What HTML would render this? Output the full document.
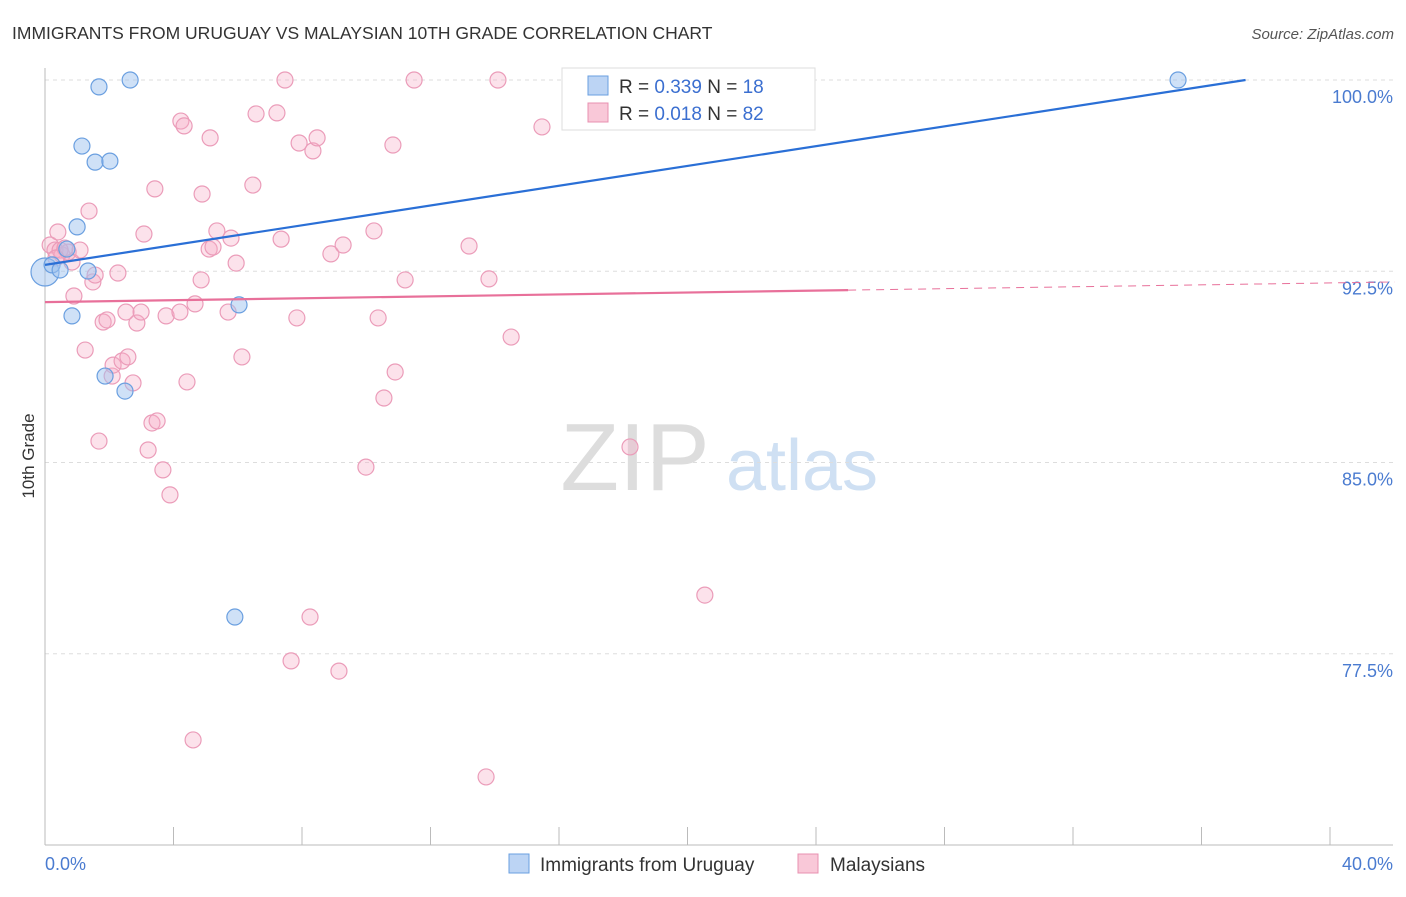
<!DOCTYPE html>
<html><head><meta charset="utf-8"><style>
body{margin:0;background:#fff;font-family:"Liberation Sans",sans-serif;}
svg text{font-family:"Liberation Sans",sans-serif;}
</style></head><body>
<svg id="chart" width="1406" height="892" viewBox="0 0 1406 892" xmlns="http://www.w3.org/2000/svg">
<text x="12" y="39" font-size="17.5" fill="#333">IMMIGRANTS FROM URUGUAY VS MALAYSIAN 10TH GRADE CORRELATION CHART</text>
<text x="1394" y="39" font-size="15" fill="#555" text-anchor="end" font-style="italic">Source: ZipAtlas.com</text>
<g>
<text x="635" y="490" font-size="96" fill="#ddd" font-family="Liberation Serif" text-anchor="middle">ZIP</text>
<text x="802" y="490" font-size="72" fill="#cfe0f3" text-anchor="middle">atlas</text>
</g>
<g id="grid"></g>
<g id="axes"></g>
<g id="points"></g>
<g id="lines"></g>
<text transform="translate(34,456) rotate(-90)" font-size="17" fill="#333" text-anchor="middle">10th Grade</text>
<g>
<rect x="562" y="68" width="253" height="62" fill="#fff" stroke="#ddd"/>
<rect x="588" y="76" width="20" height="19" fill="#bcd4f4" stroke="#6a9fe0"/>
<text x="619" y="93" font-size="19" fill="#333">R = <tspan fill="#3b6fd0">0.339</tspan>    N = <tspan fill="#3b6fd0" dx="0">18</tspan></text>
<rect x="588" y="103" width="20" height="19" fill="#f9c8d8" stroke="#e890b0"/>
<text x="619" y="120" font-size="19" fill="#333">R = <tspan fill="#3b6fd0">0.018</tspan>    N = <tspan fill="#3b6fd0">82</tspan></text>
</g>
<g>
<rect x="509" y="854" width="20" height="19" fill="#bcd4f4" stroke="#6a9fe0"/>
<text x="540" y="871" font-size="19" fill="#333">Immigrants from Uruguay</text>
<rect x="798" y="854" width="20" height="19" fill="#f9c8d8" stroke="#e890b0"/>
<text x="830" y="871" font-size="19" fill="#333">Malaysians</text>
</g>
</svg>
<script>
const xTickLabels=["0.0%","40.0%"];
const yTicks=[100,92.5,85,77.5];
const yTickLabels=["100.0%","92.5%","85.0%","77.5%"];
const blueX=[0,0.22,0.47,0.68,1.0,1.15,1.56,2.02,1.68,2.65,1.34,0.84,1.87,2.49,6.04,5.91,23.56,35.27];
const blueY=[92.47,92.75,92.55,93.37,94.24,97.41,96.78,96.82,99.73,100,92.51,90.75,88.39,87.8,91.18,78.94,100,100];
const pinkX=[0.16,0.31,0.40,0.53,0.72,0.84,1.09,1.37,0.90,1.49,1.56,2.27,1.25,1.68,1.81,1.93,2.09,2.12,2.40,2.58,2.74,2.86,2.99,2.52,3.08,3.21,3.33,3.49,3.42,3.67,3.89,3.77,4.20,4.23,4.33,4.42,4.67,4.86,4.89,5.14,5.11,5.23,5.35,5.79,5.95,5.70,6.13,6.57,6.47,7.22,7.35,7.47,7.66,7.84,7.91,8.34,8.47,8.25,8.90,9.15,9.28,9.99,10.24,10.37,10.55,10.90,10.83,11.21,11.49,13.20,13.82,14.10,14.51,15.47,16.44,18.21,20.54,4.61,13.73,0.47,0.62,0.34];
const pinkY=[93.53,93.33,94.04,93.14,93.25,92.86,93.33,94.86,91.53,92.08,92.35,92.43,89.41,85.84,90.51,90.59,88.39,88.82,88.98,89.14,88.12,90.47,90.90,90.90,93.96,85.49,86.55,86.63,95.73,84.71,83.73,90.75,90.90,98.39,98.20,88.16,91.22,92.16,95.53,97.73,93.37,93.45,94.08,93.80,92.82,90.90,89.14,98.67,95.88,98.71,93.76,100,77.22,90.67,97.53,97.22,97.73,78.94,93.18,76.82,93.53,84.82,94.08,90.67,87.53,88.55,97.45,92.16,100,93.49,92.20,100,89.92,98.16,100,85.61,79.80,74.12,72.67,93.33,93.41,93.02];
const blueLine=[92.75,0.194];
const pinkLine=[91.29,0.0188];
const NS="http://www.w3.org/2000/svg";
const sx=v=>45+v*32.125;
const sy=v=>80+(100-v)*25.5;
function mk(tag,attrs,parent){const e=document.createElementNS(NS,tag);for(const k in attrs)e.setAttribute(k,attrs[k]);document.getElementById(parent).appendChild(e);return e;}
yTicks.forEach((t,i)=>{
 const g=mk('line',{x1:45,x2:1393,y1:sy(t),y2:sy(t),stroke:'#ddd','stroke-dasharray':'4,4'},'grid');
 
 
 const tx=mk('text',{x:1393,y:sy(t)+23,'font-size':18,fill:'#4a7bd0','text-anchor':'end'},'axes');
 tx.textContent=yTickLabels[i];
 
 
});
mk('line',{x1:45,x2:45,y1:68,y2:845,stroke:'#bbb'},'axes');
mk('line',{x1:45,x2:1393,y1:845,y2:845,stroke:'#bbb'},'axes');
for(let i=0;i<=10;i++){const l=mk('line',{x1:sx(i*4),x2:sx(i*4),y1:827,y2:845,stroke:'#bbb'},'axes');
 
 }
const xl0=mk('text',{x:45,y:870,'font-size':18,fill:'#4a7bd0'},'axes');xl0.textContent=xTickLabels[0];


const xl1=mk('text',{x:1393,y:870,'font-size':18,fill:'#4a7bd0','text-anchor':'end'},'axes');xl1.textContent=xTickLabels[1];


pinkX.forEach((x,i)=>{const c=mk('circle',{cx:sx(x),cy:sy(pinkY[i]),r:8,fill:'rgba(246,172,198,0.35)',stroke:'#eb9cb9','stroke-width':1.2},'points');
 
 });
blueX.forEach((x,i)=>{const c=mk('circle',{cx:sx(x),cy:sy(blueY[i]),r:i==0?14:8,fill:'rgba(160,196,240,0.5)',stroke:'#6a9fe0','stroke-width':1.2},'points');
 
 });
const bxEnd=(100-blueLine[0])/blueLine[1];
const bl=mk('line',{x1:sx(0),y1:sy(blueLine[0]),x2:sx(bxEnd),y2:sy(100),stroke:'#2a6fd6','stroke-width':2.2},'lines');


const pl=mk('line',{x1:sx(0),y1:sy(pinkLine[0]),x2:sx(25),y2:sy(pinkLine[0]+25*pinkLine[1]),stroke:'#e8709a','stroke-width':2.2},'lines');


const pd=mk('line',{x1:sx(25),y1:sy(pinkLine[0]+25*pinkLine[1]),x2:sx(42),y2:sy(pinkLine[0]+42*pinkLine[1]),stroke:'#e8709a','stroke-width':1,'stroke-dasharray':'8,6'},'lines');


</script>
</body></html>
